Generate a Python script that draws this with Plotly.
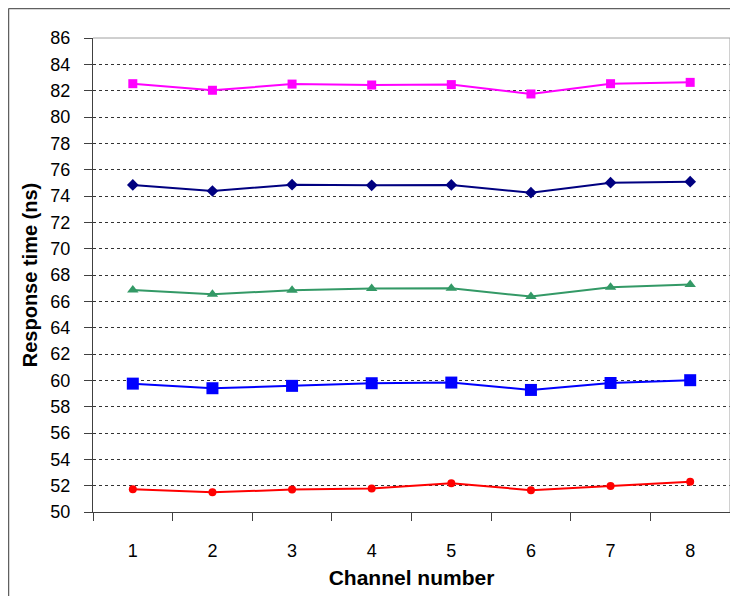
import plotly.graph_objects as go

channels = ["1", "2", "3", "4", "5", "6", "7", "8"]
magenta_vals = [82.53, 82.03, 82.50, 82.43, 82.46, 81.75, 82.53, 82.63]
navy_vals = [74.84, 74.38, 74.86, 74.81, 74.84, 74.25, 75.01, 75.09]
green_vals = [66.87, 66.54, 66.84, 66.97, 66.99, 66.36, 67.07, 67.27]
blue_vals = [59.75, 59.40, 59.58, 59.78, 59.83, 59.27, 59.80, 60.01]
red_vals = [51.73, 51.50, 51.70, 51.78, 52.19, 51.66, 51.98, 52.29]
y_ticks = list(range(50, 87, 2))

series = [
    (magenta_vals, "#FF00FF", "square", 9),
    (navy_vals, "#000080", "diamond", 9),
    (green_vals, "#339966", "triangle-up", 10),
    (blue_vals, "#0000FF", "square", 12),
    (red_vals, "#FF0000", "circle", 8),
]

fig = go.Figure()
for vals, color, sym, size in series:
    fig.add_trace(go.Scatter(
        x=channels, y=vals, mode="lines+markers",
        line=dict(color=color, width=2),
        marker=dict(symbol=sym, size=size, color=color),
        showlegend=False,
    ))

# page body has an 8px margin; figure is placed at (8, 8)
W, H = 730, 588
L, R, T, B = 85, 8, 30, 84
pw, ph = W - L - R, H - T - B

fig.update_layout(
    width=W, height=H,
    margin=dict(l=L, r=R, t=T, b=B, autoexpand=False),
    paper_bgcolor="white", plot_bgcolor="white",
    font=dict(family="Liberation Sans, Arial, sans-serif", color="black"),
    xaxis=dict(
        type="category", tickson="boundaries", ticks="outside", ticklen=8,
        tickcolor="#404040", showline=True, linecolor="#404040", linewidth=1,
        showgrid=False, tickfont=dict(size=18), ticklabelstandoff=22,
        title=dict(text="<b>Channel number</b>", font=dict(size=21), standoff=10),
        range=[-0.5, 7.5], automargin=False,
    ),
    yaxis=dict(
        range=[50, 86], tickvals=y_ticks, ticks="outside", ticklen=8,
        tickcolor="#404040", showline=True, linecolor="#404040", linewidth=1,
        showgrid=True, gridcolor="#333333", griddash="3px,3px", gridwidth=1,
        tickfont=dict(size=18), ticklabelstandoff=10, zeroline=False,
        title=dict(text="<b>Response time (ns)</b>", font=dict(size=20), standoff=7),
        automargin=False,
    ),
)

# plot-area frame (top and right edges)
fig.add_shape(type="line", xref="paper", yref="paper", x0=0, x1=1, y0=1, y1=1,
              line=dict(color="#a0a0a0", width=1))
fig.add_shape(type="line", xref="paper", yref="paper", x0=1, x1=1, y0=0, y1=1,
              line=dict(color="#a0a0a0", width=1))

# outer chart border (top and left edges visible)
fig.add_shape(type="line", xref="paper", yref="paper",
              x0=(0.5 - L) / pw, x1=(W - L) / pw, y0=(H - B - 0.5) / ph, y1=(H - B - 0.5) / ph,
              line=dict(color="#606060", width=1.5))
fig.add_shape(type="line", xref="paper", yref="paper",
              x0=(0.5 - L) / pw, x1=(0.5 - L) / pw, y0=-B / ph, y1=(H - B - 0.5) / ph,
              line=dict(color="#606060", width=1.5))

fig.write_html("out.html")
